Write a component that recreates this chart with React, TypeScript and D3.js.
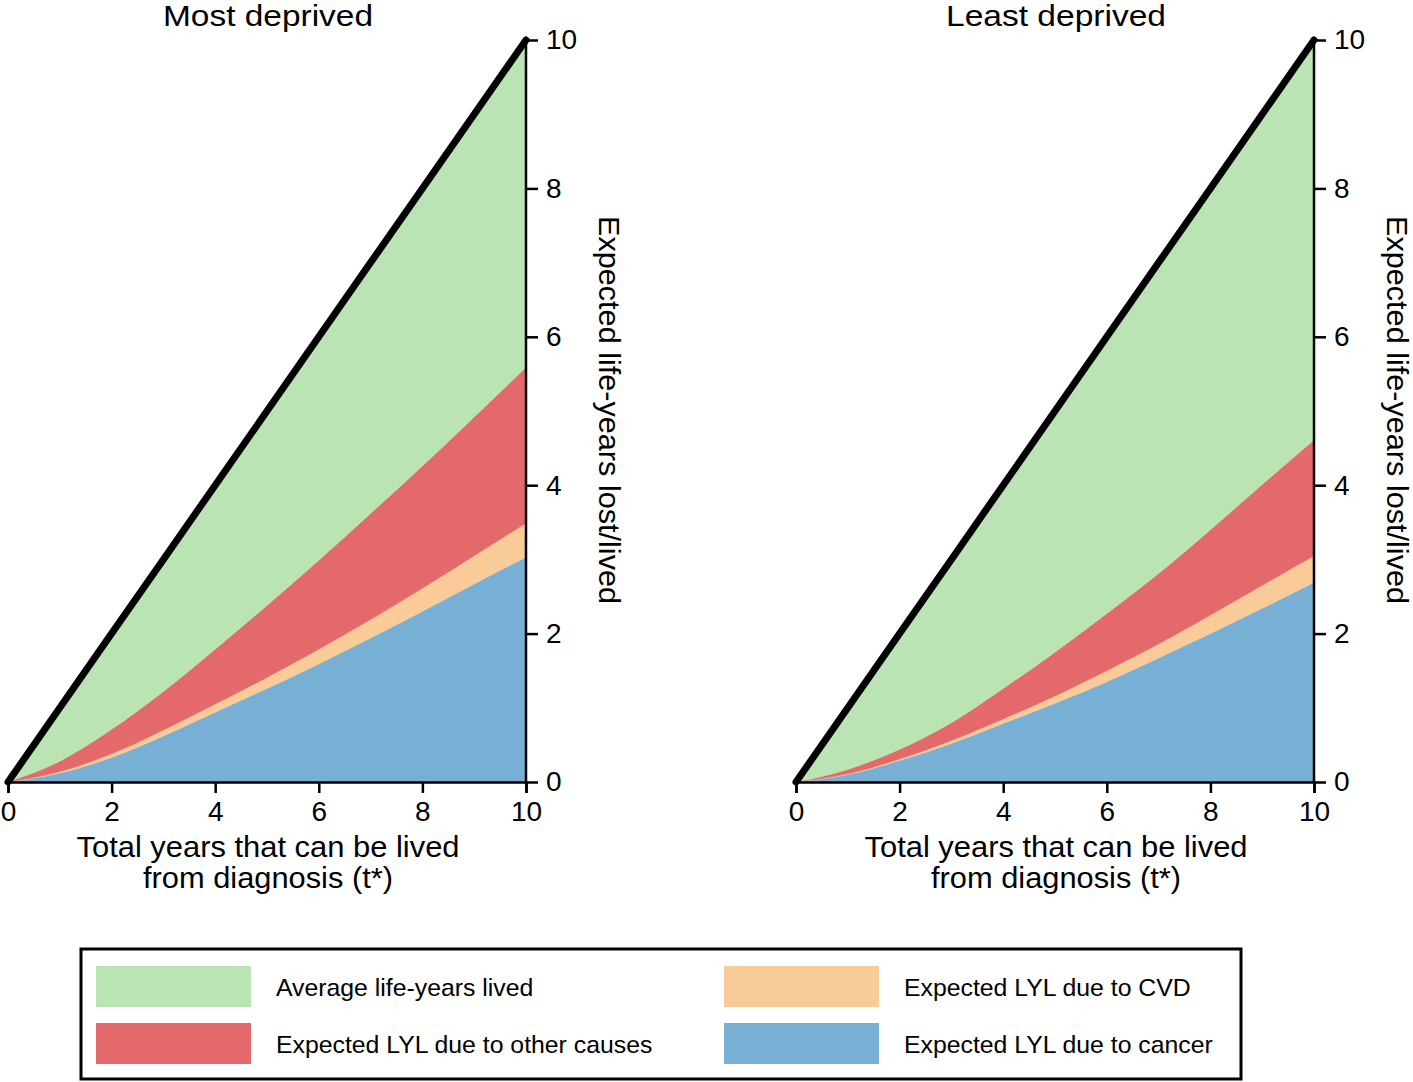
import React, {useRef, useEffect} from 'react';
import * as d3 from 'd3';

// total years that can be lived from diagnosis (t*)
const years = [0, 1, 2, 3, 4, 5, 6, 7, 8, 9, 10];

// Most deprived
const mostCancer = [0, 0.12, 0.33, 0.62, 0.94, 1.26, 1.59, 1.94, 2.30, 2.67, 3.03];
const mostCvd = [0, 0.02, 0.05, 0.08, 0.11, 0.15, 0.20, 0.25, 0.31, 0.38, 0.46];
const mostOther = [0, 0.14, 0.33, 0.52, 0.74, 0.97, 1.20, 1.43, 1.65, 1.87, 2.10];
const mostLived = [0, 0.72, 1.29, 1.78, 2.21, 2.62, 3.01, 3.38, 3.74, 4.08, 4.41];

// Least deprived
const leastCancer = [0, 0.10, 0.29, 0.52, 0.79, 1.06, 1.35, 1.67, 2.00, 2.34, 2.69];
const leastCvd = [0, 0.01, 0.02, 0.04, 0.06, 0.10, 0.15, 0.19, 0.25, 0.31, 0.36];
const leastOther = [0, 0.06, 0.13, 0.24, 0.41, 0.59, 0.77, 0.95, 1.15, 1.36, 1.56];
const leastLived = [0, 0.83, 1.56, 2.20, 2.74, 3.25, 3.73, 4.19, 4.60, 4.99, 5.39];

const tickValues = [0, 2, 4, 6, 8, 10];
const keys = ['cancer', 'cvd', 'other', 'lived'];
const colors: {[k: string]: string} = {
    cancer: '#77b0d4',
    cvd: '#f9cb98',
    other: '#e4696b',
    lived: '#bbe4b4',
};
const legendItems = [
    {key: 'lived', label: 'Average life-years lived'},
    {key: 'cvd', label: 'Expected LYL due to CVD'},
    {key: 'other', label: 'Expected LYL due to other causes'},
    {key: 'cancer', label: 'Expected LYL due to cancer'},
];

const FONT = '"Liberation Sans", Arial, Helvetica, sans-serif';

const panels = [
    {title: 'Most deprived', x0: 8, cancer: mostCancer, cvd: mostCvd, other: mostOther, lived: mostLived},
    {title: 'Least deprived', x0: 796, cancer: leastCancer, cvd: leastCvd, other: leastOther, lived: leastLived},
];

const App: React.FC = () => {
    const svgRef = useRef<SVGSVGElement | null>(null);

    useEffect(() => {
        const svg = d3.select(svgRef.current);
        svg.selectAll('*').remove();

        const panelW = 518;
        const top = 40;
        const bottom = 782;

        panels.forEach(p => {
            const x = d3.scaleLinear().domain([0, 10]).range([p.x0, p.x0 + panelW]);
            const y = d3.scaleLinear().domain([0, 10]).range([bottom, top]);

            const rows = years.map((t, i) => ({
                t,
                cancer: p.cancer[i],
                cvd: p.cvd[i],
                other: p.other[i],
                lived: p.lived[i],
            }));
            const series = d3.stack<any>().keys(keys)(rows);

            const area = d3.area<any>()
                .x(d => x(d.data.t))
                .y0(d => y(d[0]))
                .y1(d => y(d[1]))
                .curve(d3.curveMonotoneX);

            const g = svg.append('g');
            g.selectAll('path.layer')
                .data(series)
                .enter()
                .append('path')
                .attr('class', 'layer')
                .attr('d', area)
                .attr('fill', d => colors[d.key])
                .attr('stroke', d => colors[d.key])
                .attr('stroke-width', 0.5);

            // diagonal: total years
            g.append('path')
                .attr('d', d3.line<number>().x(t => x(t)).y(t => y(t))(years))
                .attr('fill', 'none')
                .attr('stroke', '#000')
                .attr('stroke-width', 7)
                .attr('stroke-linecap', 'round');

            // bottom axis
            const xAxis = g.append('g')
                .attr('transform', `translate(0,${bottom})`)
                .call(d3.axisBottom(x).tickValues(tickValues).tickSize(11).tickPadding(8).tickFormat(d3.format('d')));
            xAxis.select('.domain').attr('stroke-width', 2.5);
            xAxis.selectAll('line').attr('stroke-width', 2.5);
            xAxis.selectAll('text').attr('font-size', 28).attr('font-family', FONT).attr('fill', '#000');

            // right axis
            const yAxis = g.append('g')
                .attr('transform', `translate(${p.x0 + panelW},0)`)
                .call(d3.axisRight(y).tickValues(tickValues).tickSize(12).tickPadding(8).tickFormat(d3.format('d')));
            yAxis.select('.domain').attr('stroke-width', 2.5).attr('d', `M0,${top}V${bottom}`);
            yAxis.selectAll('line').attr('stroke-width', 2.5);
            yAxis.selectAll('text').attr('font-size', 28).attr('font-family', FONT).attr('fill', '#000');

            const cx = p.x0 + panelW / 2 + 1;
            g.append('text')
                .attr('x', cx)
                .attr('y', 26)
                .attr('text-anchor', 'middle')
                .attr('font-family', FONT)
                .attr('font-size', 30)
                .attr('textLength', p.title.length === 13 ? 210 : 220)
                .attr('lengthAdjust', 'spacingAndGlyphs')
                .text(p.title);

            g.append('text')
                .attr('x', cx).attr('y', 857)
                .attr('text-anchor', 'middle')
                .attr('font-family', FONT)
                .attr('font-size', 29)
                .attr('textLength', 383)
                .attr('lengthAdjust', 'spacingAndGlyphs')
                .text('Total years that can be lived');
            g.append('text')
                .attr('x', cx).attr('y', 888)
                .attr('text-anchor', 'middle')
                .attr('font-family', FONT)
                .attr('font-size', 29)
                .attr('textLength', 250)
                .attr('lengthAdjust', 'spacingAndGlyphs')
                .text('from diagnosis (t*)');

            g.append('text')
                .attr('transform', `translate(${p.x0 + panelW + 73},410) rotate(90)`)
                .attr('text-anchor', 'middle')
                .attr('font-family', FONT)
                .attr('font-size', 29)
                .attr('textLength', 388)
                .attr('lengthAdjust', 'spacingAndGlyphs')
                .text('Expected life-years lost/lived');
        });

        // legend
        const lg = svg.append('g');
        lg.append('rect')
            .attr('x', 81).attr('y', 949)
            .attr('width', 1160).attr('height', 130)
            .attr('fill', '#fff')
            .attr('stroke', '#000')
            .attr('stroke-width', 3);
        legendItems.forEach((item, i) => {
            const col = i % 2;
            const row = Math.floor(i / 2);
            const sx = col === 0 ? 96 : 724;
            const sy = row === 0 ? 966 : 1023;
            lg.append('rect')
                .attr('x', sx).attr('y', sy)
                .attr('width', 155).attr('height', 41)
                .attr('fill', colors[item.key]);
            lg.append('text')
                .attr('x', sx + 180)
                .attr('y', sy + 21)
                .attr('dominant-baseline', 'central')
                .attr('font-family', FONT)
                .attr('font-size', 24.8)
                .text(item.label);
        });
    }, []);

    return (
        <svg ref={svgRef} width={1413} height={1082}
             style={{position: 'absolute', left: 0, top: 0, background: '#fff'}} />
    );
};

export default App;
